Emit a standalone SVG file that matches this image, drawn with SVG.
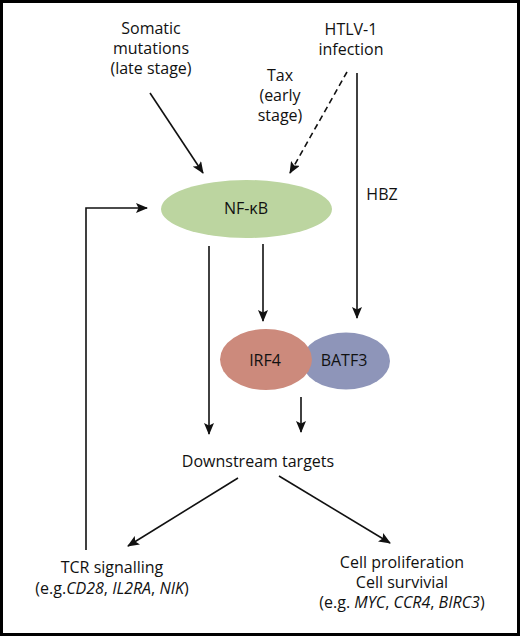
<svg xmlns="http://www.w3.org/2000/svg" width="520" height="636" viewBox="0 0 520 636">
<style>
text{font-family:"Open Sans","Liberation Sans",sans-serif;font-size:16px;fill:#111;text-anchor:middle}
.c{stroke:#111;stroke-width:1.6;fill:none}
.d{stroke-dasharray:6,4}
</style>
<defs>
<marker id="ah" viewBox="0 0 12 10" refX="11" refY="5" markerWidth="12" markerHeight="10" markerUnits="userSpaceOnUse" orient="auto">
<path d="M0,0 L12,5 L0,10 L2.5,5 z" fill="#111"/>
</marker>
</defs>
<rect x="1.5" y="1.5" width="517" height="633" fill="#fff" stroke="#000" stroke-width="3"/>
<g id="connectors">
<line class="c" x1="150" y1="93" x2="203" y2="173" marker-end="url(#ah)"/>
<line class="c d" x1="347" y1="72" x2="290" y2="173" marker-end="url(#ah)"/>
<line class="c" x1="357" y1="73" x2="357" y2="318" marker-end="url(#ah)"/>
<polyline class="c" points="86,550 86,208 147,208" marker-end="url(#ah)"/>
<line class="c" x1="209" y1="246" x2="209" y2="434" marker-end="url(#ah)"/>
<line class="c" x1="263" y1="244" x2="263" y2="321" marker-end="url(#ah)"/>
<line class="c" x1="301" y1="397" x2="301" y2="432" marker-end="url(#ah)"/>
<line class="c" x1="238" y1="478" x2="128" y2="546" marker-end="url(#ah)"/>
<line class="c" x1="279" y1="476" x2="390" y2="543" marker-end="url(#ah)"/>
</g>
<g id="somatic"><text x="151" y="34">Somatic</text><text x="151" y="54">mutations</text><text x="151" y="74">(late stage)</text></g>
<g id="htlv"><text x="351" y="35">HTLV-1</text><text x="351" y="55">infection</text></g>
<g id="tax"><text x="280" y="81">Tax</text><text x="280" y="101">(early</text><text x="280" y="121">stage)</text></g>
<g id="hbz"><text x="382" y="200">HBZ</text></g>
<g id="nfkb"><ellipse cx="246.5" cy="209" rx="85.5" ry="29" fill="#bcd5a0"/><text x="246" y="214">NF-κB</text></g>
<g id="batf3"><ellipse cx="346" cy="361" rx="44" ry="28.5" fill="#8e95b9"/><text x="344" y="366">BATF3</text></g>
<g id="irf4"><ellipse cx="266" cy="359.5" rx="46" ry="30.5" fill="#cc8a7c"/><text x="265" y="366">IRF4</text></g>
<g id="downstream"><text x="258" y="467">Downstream targets</text></g>
<g id="tcr"><text x="112" y="573">TCR signalling</text><text x="112" y="594">(e.g.<tspan font-style="italic">CD28</tspan>, <tspan font-style="italic">IL2RA</tspan>, <tspan font-style="italic">NIK</tspan>)</text></g>
<g id="prolif"><text x="402" y="568">Cell proliferation</text><text x="402" y="588">Cell survivial</text><text x="402" y="608">(e.g. <tspan font-style="italic">MYC</tspan>, <tspan font-style="italic">CCR4</tspan>, <tspan font-style="italic">BIRC3</tspan>)</text></g>
</svg>
